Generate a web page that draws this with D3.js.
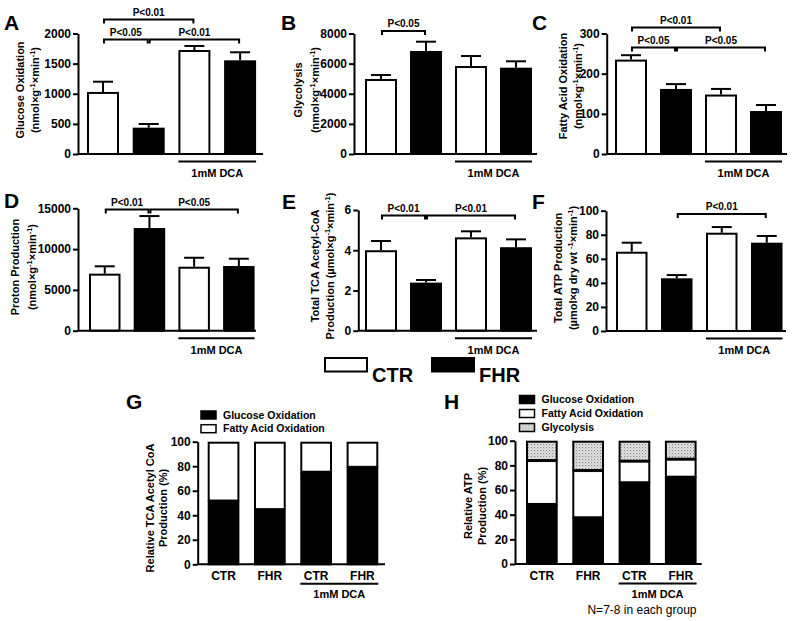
<!DOCTYPE html>
<html>
<head>
<meta charset="utf-8">
<script src="https://cdn.jsdelivr.net/npm/d3@7"></script>
<style>
  body { margin: 0; background: #fff; }
  svg { display: block; }
  text { font-family: "Liberation Sans", Arial, Helvetica, sans-serif; }
</style>
</head>
<body>
<svg id="fig" width="795" height="621"></svg>
<script>
// ---- data ----
const groups = ['CTR', 'FHR', 'CTR', 'FHR'];

const glucoseOx = [1030, 437, 1726, 1555];
const glucoseOxErr = [170, 61, 67, 133];
const glucoseOxTicks = [0, 500, 1000, 1500, 2000];

const glycolysis = [4980, 6840, 5840, 5730];
const glycolysisErr = [265, 616, 664, 424];
const glycolysisTicks = [0, 2000, 4000, 6000, 8000];

const fattyAcidOx = [235, 162, 148, 107];
const fattyAcidOxErr = [11, 12, 14, 15];
const fattyAcidOxTicks = [0, 100, 200, 300];

const proton = [6990, 12580, 7840, 7930];
const protonErr = [900, 1470, 1100, 890];
const protonTicks = [0, 5000, 10000, 15000];

const tcaAcetylCoA = [4.0, 2.39, 4.64, 4.15];
const tcaAcetylCoAErr = [0.46, 0.13, 0.30, 0.39];
const tcaTicks = [0, 2, 4, 6];

const atpProd = [65.9, 43.8, 81.7, 73.4];
const atpProdErr = [7.5, 2.7, 4.7, 5.6];
const atpTicks = [0, 20, 40, 60, 80, 100];

// relative contributions (%)
const tcaGlucoseShare = [52, 45, 75.5, 79.5];
const tcaFattyShare = [48, 55, 24.5, 20.5];
const atpGlucoseShare = [48.7, 37.9, 66.3, 70.8];
const atpFattyShare = [35.6, 38.3, 17.5, 14.6];
const atpGlycShare = [15.7, 23.8, 16.2, 14.6];
const pctTicks = [0, 20, 40, 60, 80, 100];

// significance brackets: [from, to, level, label]
const sigA = [[0, 2, 1, 'P<0.01'], [0, 1, 0, 'P<0.05'], [1, 3, 0, 'P<0.01']];
const sigB = [[0, 1, 0, 'P<0.05']];
const sigC = [[0, 2, 1, 'P<0.01'], [0, 1, 0, 'P<0.05'], [1, 3, 0, 'P<0.05']];
const sigD = [[0, 1, 0, 'P<0.01'], [1, 3, 0, 'P<0.05']];
const sigE = [[0, 1, 0, 'P<0.01'], [1, 3, 0, 'P<0.01']];
const sigF = [[1, 3, 0, 'P<0.01']];

const svg = d3.select('#fig');

// stipple for glycolysis
const pat = svg.append('defs').append('pattern')
  .attr('id', 'stipple')
  .attr('patternUnits', 'userSpaceOnUse')
  .attr('width', 3).attr('height', 3);
pat.append('rect').attr('width', 3).attr('height', 3).attr('fill', '#e4e4e4');
pat.append('rect').attr('width', 1.2).attr('height', 1.2).attr('fill', '#8a8a8a');
pat.append('rect').attr('x', 1.5).attr('y', 1.5).attr('width', 1).attr('height', 1).attr('fill', '#b0b0b0');

// rotated y label line; parts are [text, isSup]
function yLabel(g, x, y, parts) {
  const t = g.append('text')
    .attr('transform', `translate(${x},${y}) rotate(-90)`)
    .attr('text-anchor', 'middle')
    .attr('dy', '0.35em')
    .style('font-size', '11px')
    .style('font-weight', 'bold');
  let up = false;
  parts.forEach(([s, sup]) => {
    const ts = t.append('tspan').text(s);
    if (sup) { ts.attr('dy', -4).style('font-size', '7.5px'); up = true; }
    else if (up) { ts.attr('dy', 4); up = false; }
  });
}

function panelLetter(x, y, s) {
  svg.append('text').attr('x', x).attr('y', y)
    .style('font-size', '21px').style('font-weight', 'bold').text(s);
}

function leftAxis(g, p, y) {
  const ax = g.append('g')
    .attr('transform', `translate(${p.x0},0)`)
    .call(d3.axisLeft(y).tickValues(p.ticks).tickSize(5).tickSizeOuter(0).tickPadding(2).tickFormat(d3.format('d')));
  ax.select('.domain').attr('stroke-width', 2);
  ax.selectAll('.tick line').attr('stroke-width', 2);
  ax.selectAll('.tick text')
    .attr('fill', '#000')
    .style('font-size', '12px')
    .style('font-weight', 'bold')
    .style('font-family', '"Liberation Sans", Arial, sans-serif');
  g.append('line')
    .attr('x1', p.x0).attr('x2', p.xEnd)
    .attr('y1', p.y0).attr('y2', p.y0)
    .attr('stroke', '#000').attr('stroke-width', 2);
}

function bandScale(p) {
  return d3.scaleBand()
    .domain(d3.range(4))
    .range([p.b1, p.b1 + 3 * p.step + p.w])
    .paddingInner((p.step - p.w) / p.step)
    .paddingOuter(0);
}

function dcaLine(g, x, y0, lineDy, textDy) {
  const xa = x(2), xb = x(3) + x.bandwidth();
  g.append('line')
    .attr('x1', xa).attr('x2', xb)
    .attr('y1', y0 + lineDy).attr('y2', y0 + lineDy)
    .attr('stroke', '#000').attr('stroke-width', 2);
  g.append('text')
    .attr('x', (xa + xb) / 2).attr('y', y0 + textDy)
    .attr('text-anchor', 'middle')
    .style('font-size', '11px').style('font-weight', 'bold')
    .text('1mM DCA');
}

function barPanel(p, values, errs, sigs) {
  const g = svg.append('g');
  const x = bandScale(p);
  const y = d3.scaleLinear().domain([0, p.max]).range([p.y0, p.yTop]);

  // error bars (upper only)
  const eb = g.selectAll('.err').data(values).join('g').attr('class', 'err');
  eb.append('line')
    .attr('x1', (d, i) => x(i) + x.bandwidth() / 2)
    .attr('x2', (d, i) => x(i) + x.bandwidth() / 2)
    .attr('y1', d => y(d))
    .attr('y2', (d, i) => y(d + errs[i]))
    .attr('stroke', '#000').attr('stroke-width', 2);
  eb.append('line')
    .attr('x1', (d, i) => x(i) + x.bandwidth() / 2 - 10)
    .attr('x2', (d, i) => x(i) + x.bandwidth() / 2 + 10)
    .attr('y1', (d, i) => y(d + errs[i]))
    .attr('y2', (d, i) => y(d + errs[i]))
    .attr('stroke', '#000').attr('stroke-width', 2);

  g.selectAll('.bar').data(values).join('rect')
    .attr('class', 'bar')
    .attr('x', (d, i) => x(i) + 1)
    .attr('width', x.bandwidth() - 2)
    .attr('y', d => y(d) + 1)
    .attr('height', d => p.y0 - y(d) - 1)
    .attr('fill', (d, i) => i % 2 ? '#000' : '#fff')
    .attr('stroke', '#000').attr('stroke-width', 2);

  leftAxis(g, p, y);

  // significance brackets
  sigs.forEach(([a, b, lvl, label]) => {
    const xa = x(a) + x.bandwidth() / 2 + 1;
    const xb = x(b) + x.bandwidth() / 2 - 1;
    const yy = p.sigY[lvl];
    g.append('path')
      .attr('d', `M${xa},${yy + 4}V${yy}H${xb}V${yy + 4}`)
      .attr('fill', 'none').attr('stroke', '#000').attr('stroke-width', 2);
    g.append('text')
      .attr('x', (xa + xb) / 2).attr('y', yy - 4)
      .attr('text-anchor', 'middle')
      .style('font-size', '10px').style('font-weight', 'bold')
      .text(label);
  });

  dcaLine(g, x, p.y0, 7.5, 23);
  yLabel(g, p.lx1, p.ly, p.label1);
  yLabel(g, p.lx2, p.ly, p.label2);
}

const unitG = [['(nmol×g', false], ['-1', true], ['×min', false], ['-1', true], [')', false]];

barPanel({ x0: 78, y0: 154, yTop: 33.5, b1: 87, step: 45.7, w: 32, xEnd: 263, max: 2000, ticks: glucoseOxTicks,
  sigY: [39.5, 19.5], lx1: 20, lx2: 35, ly: 90,
  label1: [['Glucose Oxidation', false]], label2: unitG }, glucoseOx, glucoseOxErr, sigA);

barPanel({ x0: 354, y0: 154, yTop: 33.5, b1: 365, step: 45, w: 32, xEnd: 537, max: 8000, ticks: glycolysisTicks,
  sigY: [31], lx1: 298.5, lx2: 315, ly: 90,
  label1: [['Glycolysis', false]], label2: unitG }, glycolysis, glycolysisErr, sigB);

barPanel({ x0: 606.7, y0: 154, yTop: 33.5, b1: 615, step: 45, w: 32, xEnd: 787, max: 300, ticks: fattyAcidOxTicks,
  sigY: [47.5, 27.5], lx1: 563, lx2: 578, ly: 86,
  label1: [['Fatty Acid Oxidation', false]], label2: unitG }, fattyAcidOx, fattyAcidOxErr, sigC);

barPanel({ x0: 78, y0: 330.7, yTop: 208.3, b1: 89, step: 44.7, w: 31.5, xEnd: 256, max: 15000, ticks: protonTicks,
  sigY: [209.5], lx1: 15, lx2: 32, ly: 267,
  label1: [['Proton Production', false]], label2: unitG }, proton, protonErr, sigD);

barPanel({ x0: 358.3, y0: 330.7, yTop: 210, b1: 365, step: 45, w: 32, xEnd: 537, max: 6, ticks: tcaTicks,
  sigY: [215.5], lx1: 315, lx2: 330, ly: 266,
  label1: [['Total TCA Acetyl-CoA', false]],
  label2: [['Production (µmol×g', false], ['-1', true], ['×min', false], ['-1', true], [')', false]] },
  tcaAcetylCoA, tcaAcetylCoAErr, sigE);

barPanel({ x0: 606, y0: 331, yTop: 210.7, b1: 616, step: 45, w: 31.5, xEnd: 786, max: 100, ticks: atpTicks,
  sigY: [214], lx1: 558, lx2: 573, ly: 268,
  label1: [['Total ATP Production', false]],
  label2: [['(µmol×g dry wt ', false], ['-1', true], ['×min', false], ['-1', true], [')', false]] },
  atpProd, atpProdErr, sigF);

panelLetter(4, 30, 'A');
panelLetter(281, 30, 'B');
panelLetter(532, 30, 'C');
panelLetter(4, 208, 'D');
panelLetter(282, 209, 'E');
panelLetter(532, 209, 'F');

// ---- CTR / FHR legend ----
const legendItems = [{ name: 'CTR', fill: '#fff', x: 325 }, { name: 'FHR', fill: '#000', x: 432 }];
const lg = svg.append('g');
lg.selectAll('rect').data(legendItems).join('rect')
  .attr('x', d => d.x).attr('y', 358)
  .attr('width', 42).attr('height', 13.5)
  .attr('fill', d => d.fill).attr('stroke', '#000').attr('stroke-width', 2);
lg.selectAll('text').data(legendItems).join('text')
  .attr('x', d => d.x + 47).attr('y', 382)
  .style('font-size', '20px').style('font-weight', 'bold')
  .text(d => d.name);

// ---- stacked panels ----
function stackPanel(p, rows, keys, fills, legendNames) {
  const g = svg.append('g');
  const x = bandScale(p);
  const y = d3.scaleLinear().domain([0, 100]).range([p.y0, p.yTop]);
  const series = d3.stack().keys(keys)(rows);

  g.selectAll('.layer').data(series).join('g')
    .attr('class', 'layer')
    .attr('fill', (d, i) => fills[i])
    .selectAll('rect').data(d => d).join('rect')
    .attr('x', (d, i) => x(i) + 1)
    .attr('width', x.bandwidth() - 2)
    .attr('y', d => y(d[1]) + 1)
    .attr('height', d => y(d[0]) - y(d[1]) - 1)
    .attr('stroke', '#000').attr('stroke-width', 2);

  leftAxis(g, p, y);

  g.selectAll('.cat').data(groups).join('text')
    .attr('class', 'cat')
    .attr('x', (d, i) => x(i) + x.bandwidth() / 2)
    .attr('y', p.y0 + 15.7)
    .attr('text-anchor', 'middle')
    .style('font-size', '12px').style('font-weight', 'bold')
    .text(d => d);

  dcaLine(g, x, p.y0, 19.5, 33.5);

  // legend
  const li = g.selectAll('.leg').data(legendNames).join('g')
    .attr('class', 'leg')
    .attr('transform', (d, i) => `translate(${p.legX},${p.legY + i * p.legStep})`);
  li.append('rect')
    .attr('x', 0).attr('y', -4).attr('width', 15).attr('height', 8)
    .attr('fill', (d, i) => fills[i]).attr('stroke', '#000').attr('stroke-width', 1.5);
  li.append('text')
    .attr('x', 22).attr('y', 0).attr('dy', '0.35em')
    .style('font-size', '10.5px').style('font-weight', 'bold')
    .text(d => d);

  yLabel(g, p.lx1, p.ly, p.label1);
  yLabel(g, p.lx2, p.ly, p.label2);
}

const tcaRows = groups.map((d, i) => ({ glucose: tcaGlucoseShare[i], fatty: tcaFattyShare[i] }));
stackPanel({ x0: 197.7, y0: 564.3, yTop: 441.7, b1: 207.7, step: 46.3, w: 31.7, xEnd: 385, ticks: pctTicks,
  legX: 201, legY: 415, legStep: 13.7, lx1: 150, lx2: 163, ly: 508,
  label1: [['Relative TCA Acetyl CoA', false]], label2: [['Production (%)', false]] },
  tcaRows, ['glucose', 'fatty'], ['#000', '#fff'], ['Glucose Oxidation', 'Fatty Acid Oxidation']);

const atpRows = groups.map((d, i) => ({ glucose: atpGlucoseShare[i], fatty: atpFattyShare[i], glyc: atpGlycShare[i] }));
stackPanel({ x0: 515, y0: 564, yTop: 440.7, b1: 526, step: 46.3, w: 31.7, xEnd: 701.7, ticks: pctTicks,
  legX: 519.5, legY: 399.5, legStep: 14, lx1: 468, lx2: 482, ly: 506,
  label1: [['Relative ATP', false]], label2: [['Production (%)', false]] },
  atpRows, ['glucose', 'fatty', 'glyc'], ['#000', '#fff', 'url(#stipple)'],
  ['Glucose Oxidation', 'Fatty Acid Oxidation', 'Glycolysis']);

panelLetter(126, 409, 'G');
panelLetter(444, 409, 'H');

svg.append('text')
  .attr('x', 642).attr('y', 614)
  .attr('text-anchor', 'middle')
  .style('font-size', '12px')
  .text('N=7-8 in each group');
</script>
</body>
</html>
